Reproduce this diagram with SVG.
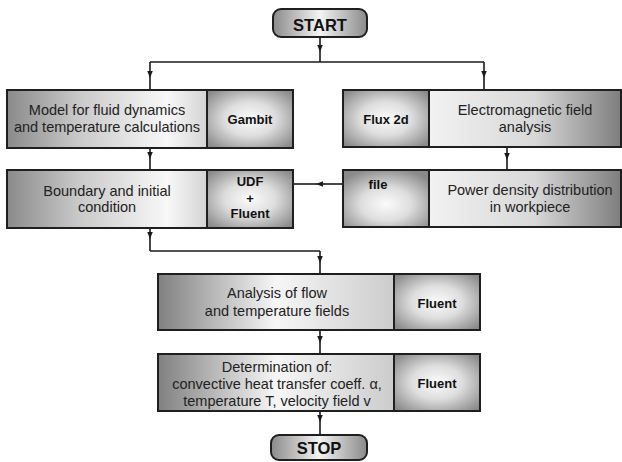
<svg xmlns="http://www.w3.org/2000/svg" width="622" height="462" viewBox="0 0 622 462">
<defs>
  <linearGradient id="gL" x1="0" y1="0" x2="1" y2="0">
    <stop offset="0" stop-color="#8a8a8a"/>
    <stop offset="0.35" stop-color="#c8c8c8"/>
    <stop offset="0.8" stop-color="#f8f8f8"/>
    <stop offset="1" stop-color="#d4d4d4"/>
  </linearGradient>
  <linearGradient id="gR" x1="0" y1="0" x2="1" y2="0">
    <stop offset="0" stop-color="#f2f2f2"/>
    <stop offset="0.55" stop-color="#d8d8d8"/>
    <stop offset="1" stop-color="#7e7e7e"/>
  </linearGradient>
  <linearGradient id="gC" x1="0" y1="0" x2="1" y2="0">
    <stop offset="0" stop-color="#808080"/>
    <stop offset="0.5" stop-color="#f6f6f6"/>
    <stop offset="1" stop-color="#cccccc"/>
  </linearGradient>
  <radialGradient id="gT" cx="0.5" cy="0.5" r="0.65">
    <stop offset="0" stop-color="#fbfbfb"/>
    <stop offset="0.45" stop-color="#dedede"/>
    <stop offset="1" stop-color="#8a8a8a"/>
  </radialGradient>
  <radialGradient id="gF" cx="0.5" cy="0.6" r="0.65">
    <stop offset="0" stop-color="#fbfbfb"/>
    <stop offset="0.45" stop-color="#dedede"/>
    <stop offset="1" stop-color="#8a8a8a"/>
  </radialGradient>
  <linearGradient id="gS" x1="0" y1="0" x2="1" y2="0">
    <stop offset="0" stop-color="#8a8a8a"/>
    <stop offset="0.5" stop-color="#f4f4f4"/>
    <stop offset="1" stop-color="#8a8a8a"/>
  </linearGradient>
  <marker id="ar" markerUnits="userSpaceOnUse" markerWidth="8" markerHeight="6" refX="7" refY="2.75" orient="auto">
    <path d="M0,0 L7,2.75 L0,5.5 z" fill="#1a1a1a"/>
  </marker>
</defs>
<style>
  .box { stroke: #1f1f1f; stroke-width: 2; }
  .t { font-family: "Liberation Sans", Arial, sans-serif; font-size: 14.5px; fill: #222; text-anchor: middle; }
  .b { font-family: "Liberation Sans", Arial, sans-serif; font-size: 13px; font-weight: bold; fill: #111; text-anchor: middle; }
  .s { font-family: "Liberation Sans", Arial, sans-serif; font-size: 16.5px; font-weight: bold; fill: #111; text-anchor: middle; }
  .c { fill: none; stroke: #1a1a1a; stroke-width: 1.6; }
  .a { marker-end: url(#ar); }
</style>

<g id="connectors">
  <path class="c a" d="M320,37 L320,52"/><path class="c" d="M320,52 L320,62"/>
  <path class="c" d="M150,62 L484,62"/>
  <path class="c a" d="M150,62 L150,78"/><path class="c" d="M150,78 L150,90"/>
  <path class="c a" d="M484,62 L484,78"/><path class="c" d="M484,78 L484,90"/>
  <path class="c a" d="M150,148 L150,159"/><path class="c" d="M150,159 L150,170"/>
  <path class="c a" d="M507,147 L507,160"/><path class="c" d="M507,160 L507,170"/>
  <path class="c a" d="M343,184 L316,184"/><path class="c" d="M316,184 L293,184"/>
  <path class="c a" d="M150,228 L150,239"/><path class="c" d="M150,239 L150,251"/>
  <path class="c" d="M150,251 L320,251"/>
  <path class="c a" d="M320,251 L320,263"/><path class="c" d="M320,263 L320,274"/>
  <path class="c a" d="M320,330 L320,343"/><path class="c" d="M320,343 L320,354"/>
  <path class="c a" d="M320,411 L320,422"/><path class="c" d="M320,422 L320,435"/>
</g>

<g id="start">
  <rect class="box" x="273" y="9" width="94" height="28" rx="8" fill="url(#gS)"/>
  <text class="s" x="320" y="31">START</text>
</g>

<g id="model">
  <rect class="box" x="7" y="90" width="200" height="58" fill="url(#gL)"/>
  <rect class="box" x="207" y="90" width="86" height="58" fill="url(#gT)"/>
  <text class="t" x="107" y="115">Model for fluid dynamics</text>
  <text class="t" x="107" y="132">and temperature calculations</text>
  <text class="b" x="250" y="124">Gambit</text>
</g>

<g id="em">
  <rect class="box" x="343" y="90" width="86" height="57" fill="url(#gT)"/>
  <rect class="box" x="429" y="90" width="192" height="57" fill="url(#gR)"/>
  <text class="b" x="386" y="124">Flux 2d</text>
  <text class="t" x="525" y="115">Electromagnetic field</text>
  <text class="t" x="525" y="132">analysis</text>
</g>

<g id="boundary">
  <rect class="box" x="7" y="170" width="200" height="58" fill="url(#gL)"/>
  <rect class="box" x="207" y="170" width="86" height="58" fill="url(#gT)"/>
  <text class="t" x="107" y="196">Boundary and initial</text>
  <text class="t" x="107" y="212">condition</text>
  <text class="b" x="250" y="186">UDF</text>
  <text class="b" x="250" y="203">+</text>
  <text class="b" x="250" y="218">Fluent</text>
</g>

<g id="power">
  <rect class="box" x="343" y="170" width="86" height="57" fill="url(#gF)"/>
  <rect class="box" x="429" y="170" width="192" height="57" fill="url(#gR)"/>
  <text class="b" x="378" y="189">file</text>
  <text class="t" x="530" y="195">Power density distribution</text>
  <text class="t" x="530" y="212">in workpiece</text>
</g>

<g id="analysis">
  <rect class="box" x="158" y="274" width="236" height="56" fill="url(#gC)"/>
  <rect class="box" x="394" y="274" width="86" height="56" fill="url(#gT)"/>
  <text class="t" x="277" y="298">Analysis of flow</text>
  <text class="t" x="277" y="316">and temperature fields</text>
  <text class="b" x="437" y="308">Fluent</text>
</g>

<g id="determination">
  <rect class="box" x="158" y="354" width="236" height="57" fill="url(#gC)"/>
  <rect class="box" x="394" y="354" width="86" height="57" fill="url(#gT)"/>
  <text class="t" x="277" y="372">Determination of:</text>
  <text class="t" x="277" y="389">convective heat transfer coeff. α,</text>
  <text class="t" x="277" y="406">temperature T, velocity field v</text>
  <text class="b" x="437" y="388">Fluent</text>
</g>

<g id="stop">
  <rect class="box" x="271" y="435" width="96" height="25" rx="8" fill="url(#gS)"/>
  <text class="s" x="319" y="454">STOP</text>
</g>
</svg>
